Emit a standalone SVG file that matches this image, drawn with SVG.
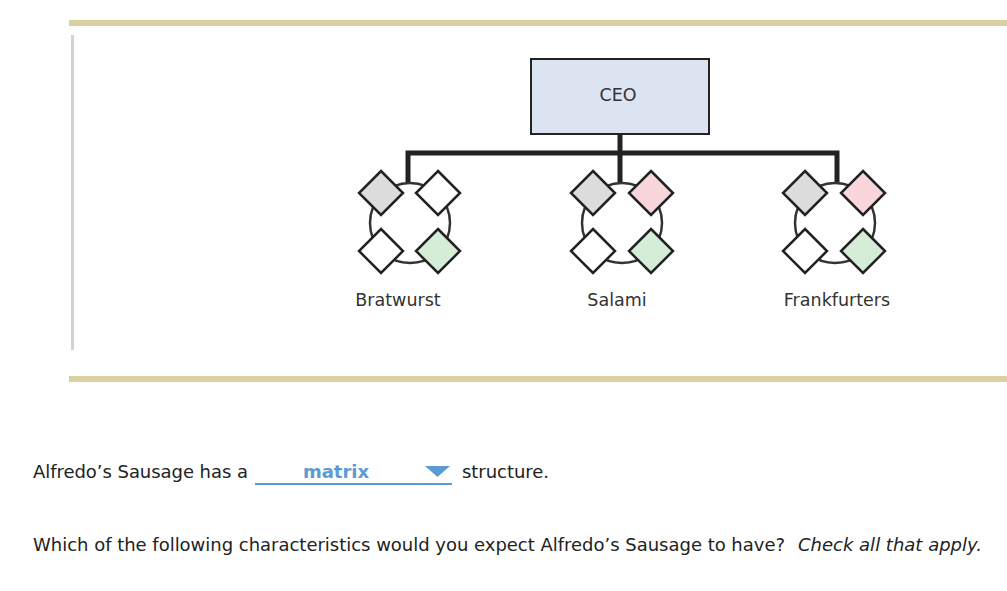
<svg xmlns="http://www.w3.org/2000/svg" width="1007" height="591" viewBox="0 0 1007 591">
<style>
.lbl{font-family:"DejaVu Sans",Verdana,sans-serif;font-size:17.5px;fill:#333;text-anchor:middle}
.txt{font-family:"DejaVu Sans",Verdana,sans-serif;font-size:18px;fill:#222}
.conn{stroke:#222;stroke-width:5;fill:none}
.ring{fill:#fff;stroke:#333;stroke-width:2.5}
.dm{stroke:#222;stroke-width:2.5}
.g{fill:#dcdcdc}.w{fill:#fff}.p{fill:#f8d6dc}.gr{fill:#d5ecd7}
</style>
<defs>
<path id="dia" d="M0,-22 L22,0 L0,22 L-22,0 Z"/>
</defs>
<rect x="0" y="0" width="1007" height="591" fill="#fff"/>
<rect x="69" y="20" width="938" height="6" fill="#dbd0a2"/>
<rect x="69" y="376" width="938" height="6" fill="#dbd0a2"/>
<rect x="71" y="35" width="3" height="315" fill="#d6d3cc"/>
<g id="connectors">
<path class="conn" d="M620,134 V186 M408,186 V153 H837 V186"/>
</g>
<g id="ceo">
<rect x="531" y="59" width="178" height="75" fill="#dce3f1" stroke="#222" stroke-width="2"/>
<text x="618" y="101" class="lbl" textLength="37" lengthAdjust="spacingAndGlyphs">CEO</text>
</g>
<g id="bratwurst">
<circle class="ring" cx="410" cy="223" r="40"/>
<use href="#dia" class="dm g" x="381" y="193"/>
<use href="#dia" class="dm w" x="438" y="193"/>
<use href="#dia" class="dm w" x="381" y="251"/>
<use href="#dia" class="dm gr" x="438" y="251"/>
<text x="398" y="306" class="lbl">Bratwurst</text>
</g>
<g id="salami">
<circle class="ring" cx="622" cy="223" r="40"/>
<use href="#dia" class="dm g" x="593" y="193"/>
<use href="#dia" class="dm p" x="651" y="193"/>
<use href="#dia" class="dm w" x="593" y="251"/>
<use href="#dia" class="dm gr" x="651" y="251"/>
<text x="617" y="306" class="lbl">Salami</text>
</g>
<g id="frankfurters">
<circle class="ring" cx="835" cy="223" r="40"/>
<use href="#dia" class="dm g" x="805" y="193"/>
<use href="#dia" class="dm p" x="863" y="193"/>
<use href="#dia" class="dm w" x="805" y="251"/>
<use href="#dia" class="dm gr" x="863" y="251"/>
<text x="837" y="306" class="lbl">Frankfurters</text>
</g>
<g id="question">
<text x="33" y="478" class="txt" textLength="215">Alfredo’s Sausage has a</text>
<line x1="255" y1="484" x2="452" y2="484" stroke="#5b9bd1" stroke-width="2"/>
<text x="336" y="478" class="txt" style="font-weight:bold;fill:#5b9bd1;text-anchor:middle">matrix</text>
<path d="M425,466 H450 L437.5,477 Z" fill="#5b9bd1"/>
<text x="462" y="478" class="txt" textLength="87">structure.</text>
<text x="33" y="551" class="txt" textLength="752">Which of the following characteristics would you expect Alfredo’s Sausage to have?</text>
<text x="798" y="551" class="txt" font-style="italic" textLength="184">Check all that apply.</text>
</g>
</svg>
